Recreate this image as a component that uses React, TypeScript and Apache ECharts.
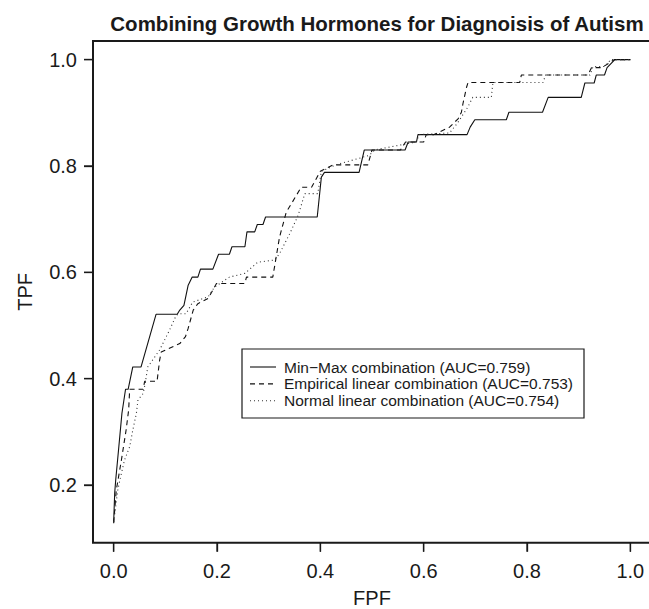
import React, { useEffect, useRef } from "react";
import * as echarts from "echarts";

const titleText = "Combining Growth Hormones for Diagnoisis of Autism";
const xName = "FPF";
const yName = "TPF";
const tickValues = [0, 0.2, 0.4, 0.6, 0.8, 1.0];
const yTickValues = [0.2, 0.4, 0.6, 0.8, 1.0];

const seriesNames = [
  "Min\u2212Max combination (AUC=0.759)",
  "Empirical linear combination (AUC=0.753)",
  "Normal linear combination (AUC=0.754)",
];

const minMaxFPF = [0, 0.002, 0.004, 0.010, 0.016, 0.023, 0.028, 0.037, 0.053, 0.082, 0.123, 0.128, 0.136, 0.144, 0.152, 0.163, 0.168, 0.192, 0.203, 0.224, 0.229, 0.254, 0.258, 0.273, 0.278, 0.289, 0.294, 0.394, 0.402, 0.408, 0.475, 0.485, 0.564, 0.570, 0.586, 0.589, 0.684, 0.690, 0.699, 0.760, 0.765, 0.830, 0.841, 0.905, 0.912, 0.930, 0.934, 0.950, 0.955, 0.970, 1.0];
const minMaxTPF = [0.13, 0.185, 0.21, 0.272, 0.335, 0.38, 0.38, 0.422, 0.422, 0.521, 0.521, 0.529, 0.538, 0.575, 0.591, 0.591, 0.606, 0.606, 0.634, 0.634, 0.648, 0.648, 0.676, 0.676, 0.690, 0.690, 0.704, 0.704, 0.779, 0.788, 0.788, 0.830, 0.830, 0.845, 0.845, 0.859, 0.859, 0.873, 0.887, 0.887, 0.901, 0.901, 0.929, 0.929, 0.956, 0.956, 0.971, 0.971, 0.985, 1.0, 1.0];

const empiricalFPF = [0, 0.005, 0.015, 0.024, 0.029, 0.031, 0.057, 0.060, 0.084, 0.089, 0.092, 0.128, 0.139, 0.144, 0.154, 0.163, 0.183, 0.199, 0.254, 0.257, 0.308, 0.321, 0.334, 0.344, 0.363, 0.383, 0.400, 0.425, 0.492, 0.500, 0.555, 0.565, 0.600, 0.605, 0.620, 0.650, 0.667, 0.673, 0.676, 0.683, 0.686, 0.786, 0.789, 0.918, 0.925, 0.945, 0.969, 1.0];
const empiricalTPF = [0.128, 0.19, 0.247, 0.303, 0.341, 0.38, 0.38, 0.395, 0.395, 0.435, 0.45, 0.466, 0.479, 0.494, 0.529, 0.541, 0.551, 0.579, 0.579, 0.591, 0.591, 0.666, 0.713, 0.729, 0.760, 0.760, 0.790, 0.802, 0.802, 0.830, 0.830, 0.845, 0.845, 0.859, 0.859, 0.873, 0.889, 0.901, 0.917, 0.948, 0.957, 0.957, 0.971, 0.971, 0.985, 0.985, 1.0, 1.0];

const normalFPF = [0, 0.008, 0.015, 0.021, 0.031, 0.037, 0.044, 0.047, 0.057, 0.061, 0.066, 0.089, 0.108, 0.121, 0.127, 0.140, 0.153, 0.183, 0.195, 0.224, 0.254, 0.279, 0.311, 0.321, 0.341, 0.357, 0.370, 0.395, 0.402, 0.430, 0.495, 0.505, 0.585, 0.592, 0.650, 0.665, 0.685, 0.695, 0.731, 0.734, 0.831, 0.836, 0.922, 0.928, 0.950, 0.962, 1.0];
const normalTPF = [0.13, 0.191, 0.222, 0.247, 0.272, 0.303, 0.335, 0.36, 0.372, 0.391, 0.422, 0.454, 0.491, 0.519, 0.522, 0.522, 0.544, 0.554, 0.572, 0.591, 0.598, 0.619, 0.623, 0.635, 0.673, 0.707, 0.748, 0.748, 0.790, 0.802, 0.820, 0.830, 0.845, 0.859, 0.862, 0.880, 0.910, 0.929, 0.929, 0.957, 0.957, 0.971, 0.971, 0.987, 0.987, 1.0, 1.0];

const FONT = "'Liberation Sans', Arial, Helvetica, sans-serif";
const INK = "#1a1a1a";

const X_MIN = -0.04;
const X_MAX = 1.04;
const Y_MIN = 0.0915;
const Y_MAX = 1.035;
const TICK_LEN = 9;

const lineStyles = [
  { color: "#111", width: 1.1, dash: null as number[] | null },
  { color: "#111", width: 1.1, dash: [5, 4] },
  { color: "#333", width: 1.1, dash: [1, 3] },
];

// legend box layout (pixels)
const LEG_X = 242;
const LEG_Y = 349;
const LEG_W = 342;
const LEG_H = 69;
const LEG_ROW0 = 367;
const LEG_ROW_GAP = 16.9;
const LEG_LINE_X0 = 250;
const LEG_LINE_X1 = 276;
const LEG_TEXT_X = 284;
const LEG_FONT = 15.5;

// plot frame (pixels)
const GRID_LEFT = 93;
const GRID_TOP = 41;
const GRID_WIDTH = 558;
const GRID_HEIGHT = 501.7;

function zip(xs: number[], ys: number[]) {
  return xs.map((x, i) => [x, ys[i]]);
}

export default function App() {
  const ref = useRef<HTMLDivElement>(null);
  useEffect(() => {
    if (!ref.current) return;
    const chart = echarts.init(ref.current, null, { renderer: "svg" });
    const lineBase = { type: "line", symbol: "none", showSymbol: false, silent: true, clip: true };
    const data = [
      zip(minMaxFPF, minMaxTPF),
      zip(empiricalFPF, empiricalTPF),
      zip(normalFPF, normalTPF),
    ];

    const legendChildren: any[] = [
      {
        type: "rect",
        shape: { x: LEG_X, y: LEG_Y, width: LEG_W, height: LEG_H },
        style: { fill: "#fff", stroke: INK, lineWidth: 1.2 },
      },
    ];
    seriesNames.forEach((name, i) => {
      const y = LEG_ROW0 + i * LEG_ROW_GAP;
      const ls = lineStyles[i];
      legendChildren.push({
        type: "line",
        shape: { x1: LEG_LINE_X0, y1: y, x2: LEG_LINE_X1, y2: y },
        style: { stroke: ls.color, lineWidth: ls.width, lineDash: ls.dash || undefined },
      });
      legendChildren.push({
        type: "text",
        x: LEG_TEXT_X,
        y,
        style: {
          text: name,
          fontFamily: FONT,
          fontSize: LEG_FONT,
          fill: INK,
          align: "left",
          verticalAlign: "middle",
        },
      });
    });

    const axisLine = { show: false, onZero: false };
    const axisTickBase = { show: true, inside: false, length: TICK_LEN, lineStyle: { color: INK, width: 1.3 } };

    // tick marks as rect symbols anchored on the axis values
    const xTickSeries = {
      type: "scatter",
      silent: true,
      clip: false,
      z: 20,
      symbol: "rect",
      symbolSize: [1.3, TICK_LEN],
      symbolOffset: [0, TICK_LEN / 2],
      itemStyle: { color: INK, opacity: 1 },
      data: tickValues.map((v) => [v, Y_MIN]),
    };
    const yTickSeries = {
      type: "scatter",
      silent: true,
      clip: false,
      z: 20,
      symbol: "rect",
      symbolSize: [TICK_LEN, 1.3],
      symbolOffset: [-TICK_LEN / 2, 0],
      itemStyle: { color: INK, opacity: 1 },
      data: yTickValues.map((v) => [X_MIN, v]),
    };

    chart.setOption({
      animation: false,
      backgroundColor: "#fff",
      textStyle: { fontFamily: FONT, color: INK },
      title: {
        text: titleText,
        left: 372,
        top: 8,
        textAlign: "center",
        textStyle: { fontFamily: FONT, fontSize: 20.5, fontWeight: "bold", color: INK },
      },
      grid: {
        left: GRID_LEFT,
        top: GRID_TOP,
        width: GRID_WIDTH,
        height: GRID_HEIGHT,
        containLabel: false,
        outerBoundsMode: "none",
        show: true,
        borderColor: INK,
        borderWidth: 2,
        backgroundColor: "transparent",
      },
      xAxis: {
        type: "value",
        min: X_MIN,
        max: X_MAX,
        name: xName,
        nameLocation: "middle",
        nameGap: 45,
        nameTextStyle: { fontFamily: FONT, fontSize: 20, color: INK, verticalAlign: "top" },
        axisLine,
        splitLine: { show: false },
        axisTick: { ...axisTickBase, customValues: tickValues },
        axisLabel: {
          show: true,
          margin: 18,
          customValues: tickValues,
          formatter: (v: number) => v.toFixed(1),
          fontFamily: FONT,
          fontSize: 20,
          color: INK,
        },
      },
      yAxis: {
        type: "value",
        min: Y_MIN,
        max: Y_MAX,
        name: yName,
        nameLocation: "middle",
        nameGap: 58,
        nameTextStyle: { fontFamily: FONT, fontSize: 20, color: INK },
        axisLine,
        splitLine: { show: false },
        axisTick: { ...axisTickBase, customValues: yTickValues },
        axisLabel: {
          show: true,
          margin: 16,
          customValues: yTickValues,
          formatter: (v: number) => v.toFixed(1),
          fontFamily: FONT,
          fontSize: 20,
          color: INK,
        },
      },
      graphic: [{ id: "legend", type: "group", children: legendChildren, z: 100 }],
      series: [
        ...seriesNames.map((name, i) => ({
          ...lineBase,
          name,
          data: data[i],
          lineStyle: {
            color: lineStyles[i].color,
            width: lineStyles[i].width,
            type: lineStyles[i].dash || "solid",
          },
          itemStyle: { color: lineStyles[i].color },
        })),
        xTickSeries,
        yTickSeries,
      ],
    });
    return () => chart.dispose();
  }, []);
  return <div ref={ref} style={{ width: 649, height: 609, position: "absolute", left: 0, top: 0 }} />;
}
